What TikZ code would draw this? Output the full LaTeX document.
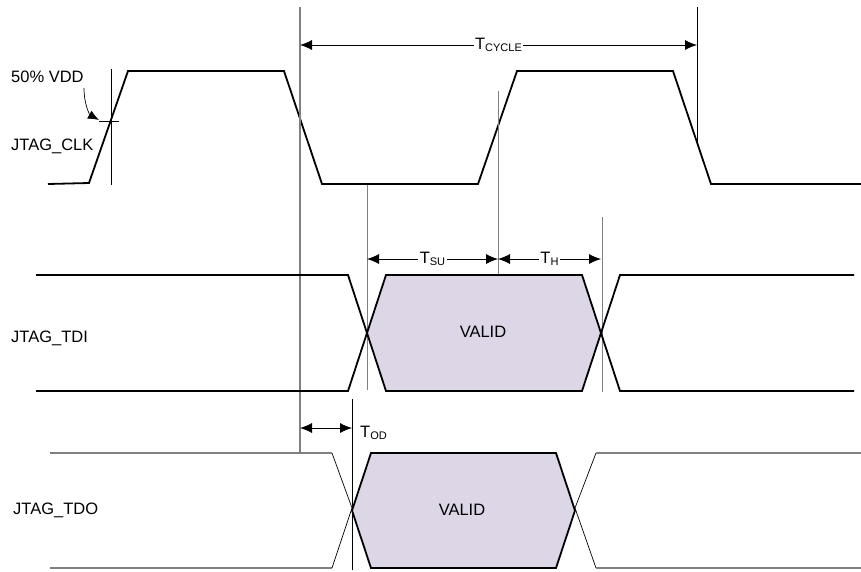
\documentclass[tikz,border=0pt]{standalone}
\usepackage{fontspec}
\setmainfont{Liberation Sans}
\usepackage{tikz}
\usetikzlibrary{arrows.meta}
\definecolor{validfill}{RGB}{220,214,230}
\definecolor{guide}{RGB}{128,128,128}
\newcommand{\tsub}[1]{T\raisebox{-2.5pt}{\fontsize{11}{12}\selectfont #1}}
\newcommand{\drawValid}[4]{% left tip x, right tip x, top y, bottom y
  \draw[sig,fill=validfill] (#1,{(#3+#4)/2}) -- (#1+19,#3) -- (#2-19,#3)
    -- (#2,{(#3+#4)/2}) -- (#2-19,#4) -- (#1+19,#4) -- cycle;
}

\begin{document}
\begin{tikzpicture}[x=1pt,y=-1pt,>={Latex[length=12pt,width=10pt]},
  sig/.style={line width=1.8pt,line join=miter},
  thin sig/.style={line width=0.7pt},
  guide line/.style={line width=0.7pt},
  lbl/.style={font=\fontsize{16.5}{19}\selectfont,inner sep=0pt},
  dim/.style={<->,line width=0.8pt},
  dimlbl/.style={lbl,fill=white,inner sep=1.5pt}]
\useasboundingbox (0,0) rectangle (861,571);

% Signal names
\node[lbl,anchor=west] (vdd) at (11,77) {50\% VDD};
\node[lbl,anchor=west] (clk) at (11,146) {JTAG\_CLK};
\node[lbl,anchor=west] (tdi) at (11,338) {JTAG\_TDI};
\node[lbl,anchor=west] (tdo) at (13,510) {JTAG\_TDO};

% Clock
\draw[sig] (48,184) -- (89,183) -- (128,71) -- (284,71) -- (322,184) -- (478,184)
  -- (517,71) -- (673,71) -- (711,184) -- (861,184);

% 50% VDD marker
\coordinate (vddfrom) at (84,88);
\coordinate (vddtip) at (99,120);
\draw[guide line] (111,69) -- (111,185);
\draw[guide line] (99,121) -- (119,121);
\draw[-{Latex[length=11pt,width=9pt]},line width=0.7pt] (vddfrom) .. controls (84,105) and (90,115) .. (vddtip);

% Reference lines
\draw[draw=guide,line width=1.3pt] (300,7) -- (300,453);
\draw[guide line] (697,7) -- (697,142);
\draw[guide line,draw=guide] (498,91) -- (498,275);
\draw[guide line,draw=guide] (367,185) -- (367,390);
\draw[guide line,draw=guide] (602,217) -- (602,392);
\draw[guide line] (352,399) -- (352,570);

% Cycle, setup, hold and output delay
\coordinate (cyc1) at (300,45);
\coordinate (cyc2) at (697,45);
\coordinate (su1) at (367,259);
\coordinate (su2) at (498,259);
\coordinate (h2) at (601,259);
\coordinate (od1) at (300,428);
\coordinate (od2) at (352,428);
\draw[dim] (cyc1) -- (cyc2) node[dimlbl,midway] (tcyc) {\tsub{CYCLE}};
\draw[dim] (su1) -- (su2) node[dimlbl,midway] (tsu) {\tsub{SU}};
\draw[dim] (su2) -- (h2) node[dimlbl,midway] (th) {\tsub{H}};
\draw[dim] (od1) -- (od2);
\node[lbl,anchor=west] (tod) at (360,433) {\tsub{OD}};

% JTAG_TDI
\draw[sig] (36,275) -- (348,275) -- (367,333);
\draw[sig] (36,391) -- (348,391) -- (367,333);
\drawValid{367}{601}{275}{391}
\draw[sig] (601,333) -- (620,275) -- (854,275);
\draw[sig] (601,333) -- (620,391) -- (854,391);
\node[lbl] (tdivalid) at (483,332) {VALID};

% JTAG_TDO
\draw[draw=guide,line width=1.3pt] (50,453) -- (332,453);
\draw[draw=guide,line width=1.3pt] (50,568) -- (332,568);
\draw[thin sig] (332,453) -- (352,508) -- (332,568);
\drawValid{352}{575}{453}{568}
\draw[thin sig] (596,453) -- (575,508) -- (596,568);
\draw[draw=guide,line width=1.3pt] (596,453) -- (861,453);
\draw[draw=guide,line width=1.3pt] (596,568) -- (861,568);
\node[lbl] (tdovalid) at (462,510) {VALID};

\end{tikzpicture}
\end{document}
